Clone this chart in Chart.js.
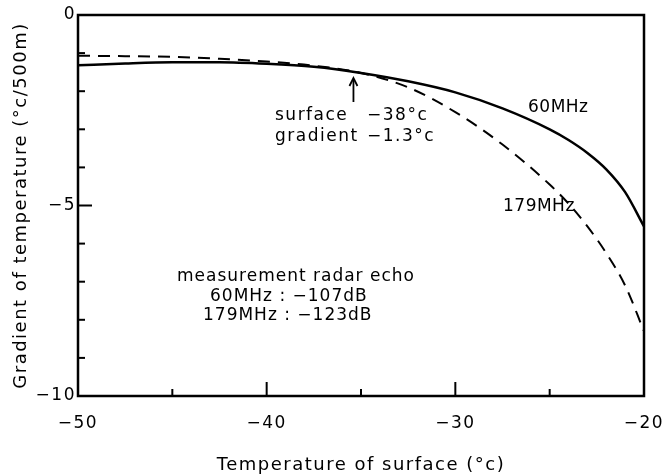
<!DOCTYPE html>
<html>
<head>
<meta charset="utf-8">
<script src="https://cdn.jsdelivr.net/npm/chart.js@4/dist/chart.umd.min.js"></script>
<style>
html,body{margin:0;padding:0;background:#fff;}
#wrap{width:672px;height:476px;}
</style>
</head>
<body>
<div id="wrap"><canvas id="c" width="672" height="476"></canvas></div>
<script>
// Data
const surfaceTemp = [-50, -47.5, -45, -42.5, -40, -37.5, -35, -32.5, -30, -27.5, -25, -24, -23, -22, -21, -20];
const gradient60MHz = [-1.32, -1.27, -1.24, -1.24, -1.28, -1.36, -1.52, -1.74, -2.03, -2.45, -3.0, -3.28, -3.62, -4.05, -4.65, -5.55];
const gradient179MHz = [-1.07, -1.08, -1.1, -1.15, -1.22, -1.33, -1.52, -1.9, -2.55, -3.4, -4.45, -4.95, -5.55, -6.25, -7.1, -8.3];
const xTickValues = [-50, -40, -30, -20];
const yTickValues = [0, -5, -10];
const xMinorTicks = [-45, -35, -25];
const yMinorTicks = [-1, -2, -3, -4, -6, -7, -8, -9];
const arrowSurface = -35.4;

const FONT = "'DejaVu Sans', sans-serif";
const fmt = v => String(v).replace('-', '\u2212');

const spacing = {
  id: 'spacing',
  beforeLayout(chart) { chart.ctx.letterSpacing = '1.5px'; },
  beforeDraw(chart) { chart.ctx.letterSpacing = '1.5px'; }
};

const frame = {
  id: 'frame',
  afterDraw(chart) {
    const {ctx, chartArea: a, scales: {x, y}} = chart;
    ctx.save();
    ctx.strokeStyle = '#000';
    ctx.lineWidth = 2.5;
    ctx.strokeRect(a.left, a.top, a.right - a.left, a.bottom - a.top);
    ctx.lineWidth = 2;
    // inward ticks
    xTickValues.forEach(v => { const px = x.getPixelForValue(v); ctx.beginPath(); ctx.moveTo(px, a.bottom); ctx.lineTo(px, a.bottom - 14); ctx.stroke(); });
    xMinorTicks.forEach(v => { const px = x.getPixelForValue(v); ctx.beginPath(); ctx.moveTo(px, a.bottom); ctx.lineTo(px, a.bottom - 7); ctx.stroke(); });
    yTickValues.forEach(v => { const py = y.getPixelForValue(v); ctx.beginPath(); ctx.moveTo(a.left, py); ctx.lineTo(a.left + 14, py); ctx.stroke(); });
    yMinorTicks.forEach(v => { const py = y.getPixelForValue(v); ctx.beginPath(); ctx.moveTo(a.left, py); ctx.lineTo(a.left + 7, py); ctx.stroke(); });
    // arrow
    const ax = x.getPixelForValue(arrowSurface);
    ctx.lineWidth = 1.8;
    ctx.beginPath(); ctx.moveTo(ax, 102); ctx.lineTo(ax, 79); ctx.stroke();
    ctx.beginPath(); ctx.moveTo(ax - 4, 86); ctx.lineTo(ax, 78); ctx.lineTo(ax + 4, 86); ctx.stroke();
    // annotations
    ctx.fillStyle = '#000';
    ctx.letterSpacing = '1.5px';
    ctx.font = '17px ' + FONT;
    ctx.textBaseline = 'middle';
    ctx.textAlign = 'left';
    ctx.fillText('surface', 275, 116);
    ctx.fillText('\u221238\u00b0c', 367, 116);
    ctx.fillText('gradient', 275, 137);
    ctx.fillText('\u22121.3\u00b0c', 367, 137);
    ctx.letterSpacing = '0.5px';
    ctx.fillText('60MHz', 528, 108);
    ctx.fillText('179MHz', 503, 207);
    ctx.letterSpacing = '1px';
    ctx.fillText('measurement radar echo', 177, 277);
    ctx.fillText('60MHz : \u2212107dB', 210, 297);
    ctx.fillText('179MHz : \u2212123dB', 203, 316);
    ctx.restore();
  }
};

new Chart(document.getElementById('c'), {
  type: 'line',
  data: {
    datasets: [
      { label: '60MHz', data: surfaceTemp.map((t, i) => ({x: t, y: gradient60MHz[i]})),
        borderColor: '#000', borderWidth: 2.5, pointRadius: 0, fill: false, cubicInterpolationMode: 'monotone' },
      { label: '179MHz', data: surfaceTemp.map((t, i) => ({x: t, y: gradient179MHz[i]})),
        borderColor: '#000', borderWidth: 2, borderDash: [12, 8], pointRadius: 0, fill: false, cubicInterpolationMode: 'monotone' }
    ]
  },
  options: {
    responsive: false,
    animation: false,
    layout: { padding: { top: 15, right: 28, left: 0, bottom: 0 } },
    plugins: { legend: { display: false }, tooltip: { enabled: false } },
    scales: {
      x: {
        type: 'linear', min: -50, max: -20,
        afterFit: s => { s.height = 80; s.paddingLeft = 0; s.paddingRight = 0; },
        afterBuildTicks: s => { s.ticks = xTickValues.map(v => ({value: v})); },
        grid: { display: false, drawTicks: false },
        border: { display: false },
        ticks: { color: '#000', font: { family: FONT, size: 17 }, padding: 17, callback: fmt, maxRotation: 0 },
        title: { display: true, text: 'Temperature of surface (\u00b0c)', color: '#000', font: { family: FONT, size: 18 }, padding: { top: 0, bottom: 0 } }
      },
      y: {
        type: 'linear', min: -10, max: 0,
        afterFit: s => { s.width = 78; s.paddingTop = 0; s.paddingBottom = 0; },
        afterBuildTicks: s => { s.ticks = yTickValues.map(v => ({value: v})); },
        grid: { display: false, drawTicks: false },
        border: { display: false },
        ticks: { color: '#000', font: { family: FONT, size: 17 }, padding: 2, callback: fmt },
        title: { display: true, text: 'Gradient of temperature (\u00b0c/500m)', color: '#000', font: { family: FONT, size: 18 }, padding: { top: 11, bottom: 0 } }
      }
    }
  },
  plugins: [spacing, frame]
});
</script>
</body>
</html>
